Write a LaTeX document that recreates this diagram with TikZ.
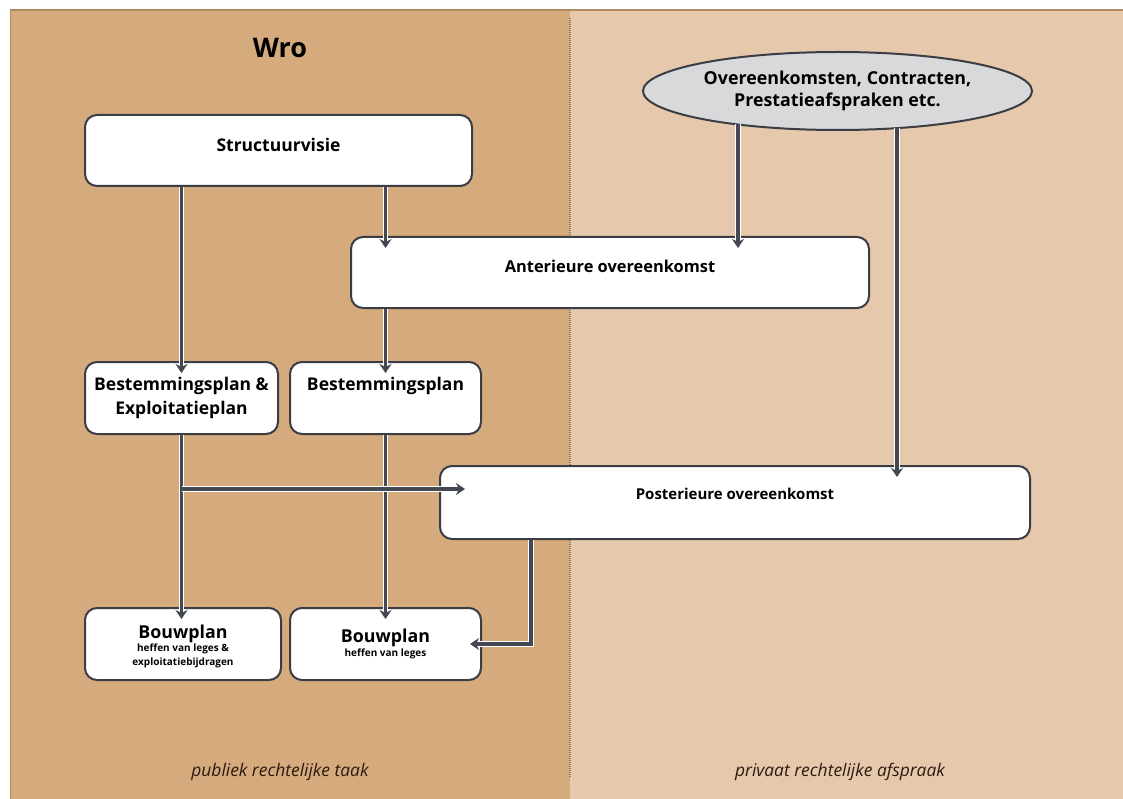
\documentclass[tikz,border=0pt]{standalone}
\usepackage{fontspec}
\setmainfont{Open Sans}
\usetikzlibrary{arrows.meta,shapes.geometric}
\definecolor{panelL}{HTML}{D5AA7C}
\definecolor{panelR}{HTML}{E6C8AC}
\definecolor{edgeline}{HTML}{B08A62}
\definecolor{ink}{HTML}{434852}
\definecolor{boxline}{HTML}{3A3D44}
\definecolor{ellfill}{HTML}{D8D9DB}
\definecolor{foot}{HTML}{2B1A10}
\definecolor{divider}{HTML}{8A7A6A}
\begin{document}
\begin{tikzpicture}[x=1pt,y=-1pt,
  box/.style={draw=boxline,line width=2pt,fill=white,rounded corners=12pt,inner sep=0pt,align=center,text=black},
  fbp/.style={font=\bfseries\fontsize{17.5}{24}\selectfont},
  fbw/.style={font=\bfseries\fontsize{10}{14.5}\selectfont},
  conn/.style={draw=ink,line width=3.8pt,preaction={draw=white,line width=5.8pt}},
  arr/.style={-{Stealth[length=9pt,width=12pt,inset=3pt]},shorten >=-12pt},
  footer/.style={font=\itshape\fontsize{17.4}{20}\selectfont,text=foot}
]
\useasboundingbox (0,0) rectangle (1123,799);
\fill[white] (0,0) rectangle (1123,799);
\fill[panelL] (10,10) rectangle (570,799);
\fill[panelR] (570,10) rectangle (1123,799);
\draw[edgeline,line width=1.5pt] (10,10) -- (1123,10);
\draw[edgeline,line width=1pt] (10,10) -- (10,799);
\draw[divider,line width=2pt,dash pattern=on 1pt off 1pt] (570,18) -- (570,778);

\node[font=\bfseries\fontsize{27}{30}\selectfont] (wro) at (280,48) {Wro};

\node[box,font=\bfseries\fontsize{17.5}{20}\selectfont,minimum width=387pt,minimum height=71pt,text depth=12pt] (sv) at (278.5,150.5) {Structuurvisie};
\node[ellipse,draw=boxline,line width=2pt,fill=ellfill,minimum width=389pt,minimum height=78pt,inner sep=0pt,align=center,font=\bfseries\fontsize{17.8}{22}\selectfont] (ell) at (837.5,91) {Overeenkomsten, Contracten,\\Prestatieafspraken etc.};
\node[box,font=\bfseries\fontsize{16.4}{19}\selectfont,minimum width=518pt,minimum height=71pt,text depth=13pt] (ant) at (610,272.5) {Anterieure overeenkomst};
\node[box,fbp,minimum width=193pt,minimum height=72pt] (be) at (181.5,398) {Bestemmingsplan \&\\Exploitatieplan};
\node[box,fbp,minimum width=191pt,minimum height=72pt] (bp) at (385.5,398) {\rule{0pt}{17pt}Bestemmingsplan\\\strut};
\node[box,font=\bfseries\fontsize{15}{18}\selectfont,minimum width=590pt,minimum height=73pt,text depth=17pt] (post) at (735,502.5) {Posterieure overeenkomst};
\node[box,fbw,minimum width=196pt,minimum height=72pt] (bw1) at (183,644) {\rule{0pt}{19pt}{\fontsize{17.8}{14.5}\selectfont Bouwplan}\\[-2pt]heffen van leges \&\\exploitatiebijdragen};
\node[box,fbw,minimum width=191pt,minimum height=72pt] (bw2) at (385.5,644) {\rule{0pt}{11pt}{\fontsize{17.8}{14.5}\selectfont Bouwplan}\\heffen van leges};

\node[footer] (f1) at (280,772) {publiek rechtelijke taak};
\node[footer] (f2) at (840,772) {privaat rechtelijke afspraak};

% connectors
\coordinate (e1) at ([xshift=-99.5pt,yshift=-33pt]ell.center);
\coordinate (e2) at ([xshift=59.5pt,yshift=-37pt]ell.center);
\draw[conn,arr] (sv.south -| be.north) -- (be.north);
\draw[conn,arr] (sv.south -| bp.north) -- (ant.north -| bp.north);
\draw[conn,arr] (e1) -- (e1 |- ant.north);
\draw[conn,arr] (e2) -- (e2 |- post.north);
\draw[conn,arr] (ant.south -| bp.north) -- (bp.north);
\draw[conn,arr] (bp.south) -- (bw2.north);
\draw[conn,arr] (be.south) -- (be.south |- bw1.north);
\coordinate (br) at (181.5,489);
\draw[conn,-{Stealth[length=9pt,width=12pt,inset=3pt]},shorten >=-26pt] (br) -- (br -| post.west);
\draw[conn,arr] ([xshift=92pt]post.south west) |- (bw2.east);
\end{tikzpicture}
\end{document}
